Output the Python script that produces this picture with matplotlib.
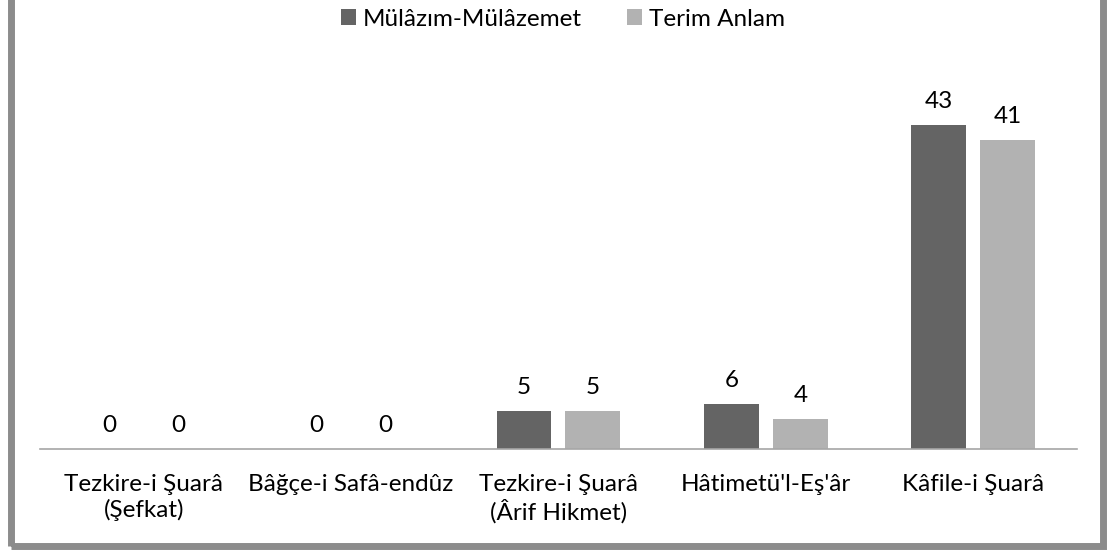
import matplotlib
matplotlib.use('Agg')
import matplotlib.pyplot as plt
import numpy as np
from matplotlib.patches import Rectangle

plt.rcParams['font.family'] = ['Lato', 'DejaVu Sans']

# Chart data
categories = ['Tezkire-i Şuarâ\n(Şefkat)', 'Bâğçe-i Safâ-endûz', 'Tezkire-i Şuarâ\n(Ârif Hikmet)',
              "Hâtimetü'l-Eş'âr", 'Kâfile-i Şuarâ']
mulazim = [0, 0, 5, 6, 43]
terim = [0, 0, 5, 4, 41]
series_names = ['Mülâzım-Mülâzemet', 'Terim Anlam']

fs = 17.5

fig = plt.figure(figsize=(11.07, 5.54), dpi=100)
ax = fig.add_axes([0.0361, 0.1895, 0.9368, 0.6805])

x = np.arange(len(categories))
w = 0.265
off = (w + 0.0675) / 2
b1 = ax.bar(x - off, mulazim, w, color='#646464', label=series_names[0])
b2 = ax.bar(x + off, terim, w, color='#b2b2b2', label=series_names[1])

# value labels above bars
for bars in (b1, b2):
    for r in bars:
        ax.annotate(f'{int(r.get_height())}', (r.get_x() + r.get_width() / 2, r.get_height()),
                    xytext=(0, 9.5), textcoords='offset points', ha='center', va='bottom',
                    fontsize=fs, color='black')

ax.set_xlim(-0.5, len(categories) - 0.5)
ax.set_ylim(0, 50)
ax.set_yticks([])
ax.set_xticks(x)
ax.set_xticklabels(categories, fontsize=fs, linespacing=1.2)
ax.tick_params(axis='x', length=0, pad=18)
for s in ['top', 'right', 'left']:
    ax.spines[s].set_visible(False)
ax.spines['bottom'].set_color('#a6a6a6')
ax.spines['bottom'].set_linewidth(1.2)

fig.legend(handles=[b1, b2], loc='center', bbox_to_anchor=(0.5086, 0.965), ncol=2, frameon=False,
           fontsize=fs, handlelength=0.62, handleheight=0.62, handletextpad=0.29, columnspacing=1.85)

# grey frame around the chart
fig.patches.append(Rectangle((11 / 1107, 1 - 546 / 554), (1103 - 11) / 1107, 1.05,
                             transform=fig.transFigure, fill=False, edgecolor='#8c8c8c',
                             linewidth=5, zorder=10))

plt.savefig('out.png', dpi=100)
